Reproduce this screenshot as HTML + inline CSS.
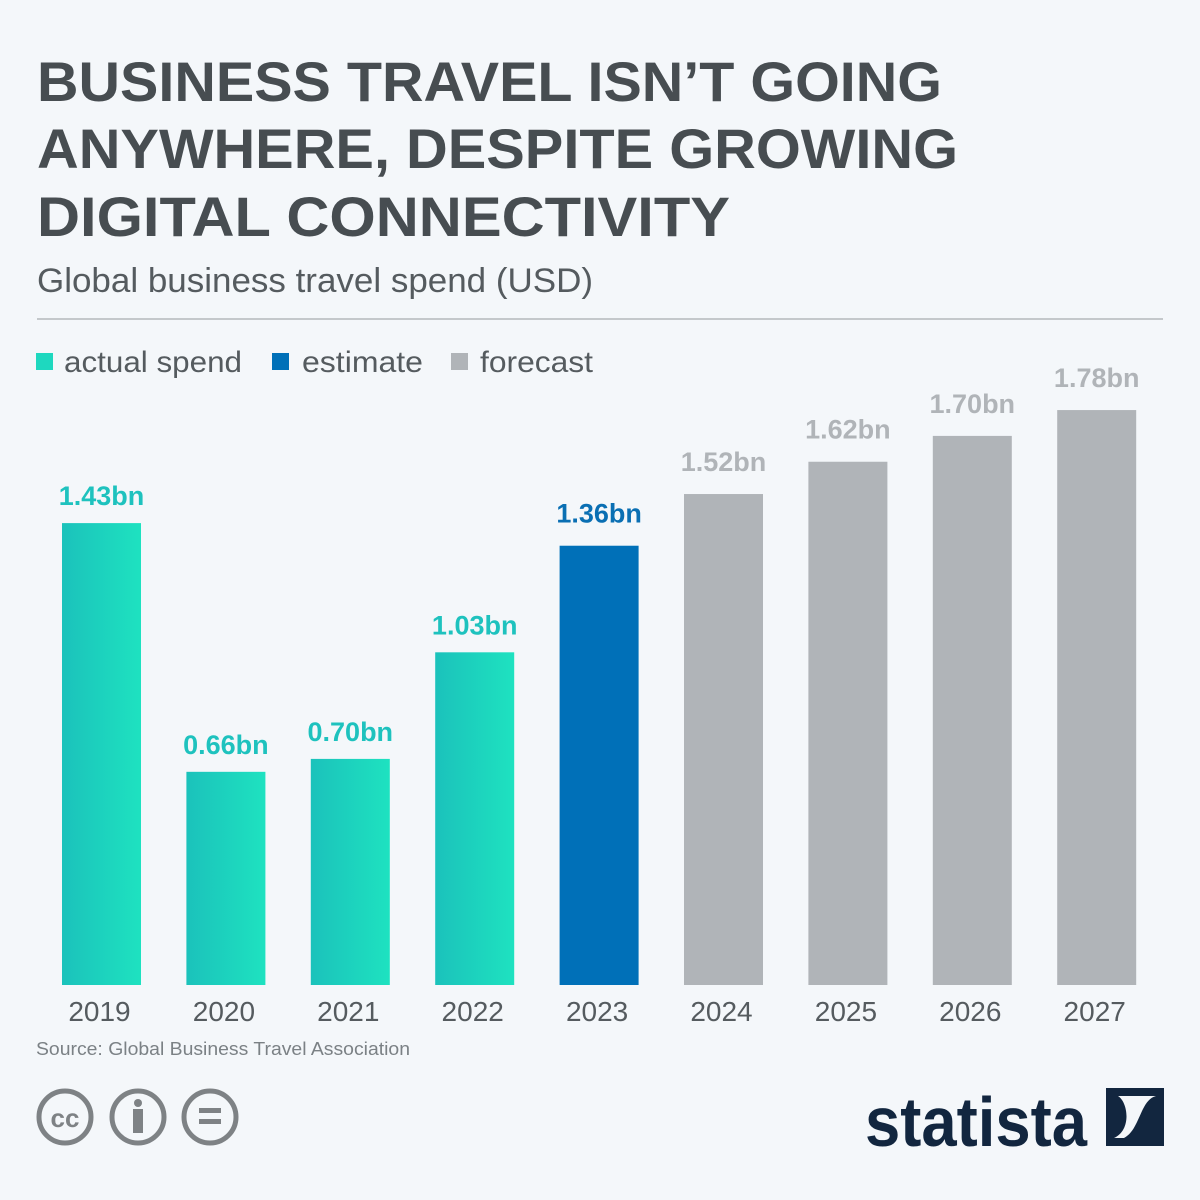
<!DOCTYPE html>
<html><head><meta charset="utf-8"><style>
html,body{margin:0;padding:0;background:#f4f7fa;}
svg{display:block;font-family:"Liberation Sans",sans-serif;}
</style></head><body>
<svg id="chart" width="1200" height="1200" viewBox="0 0 1200 1200">
<defs><linearGradient id="tg" x1="0" x2="1" y1="0" y2="0"><stop offset="0" stop-color="#1bc2bb"/><stop offset="1" stop-color="#1ee2c0"/></linearGradient></defs>
<rect width="1200" height="1200" fill="#f4f7fa"/>
<g fill="#474d51" font-weight="bold" font-size="56">
<text x="37" y="101" textLength="905" lengthAdjust="spacingAndGlyphs">BUSINESS TRAVEL ISN’T GOING</text>
<text x="37" y="168" textLength="921" lengthAdjust="spacingAndGlyphs">ANYWHERE, DESPITE GROWING</text>
<text x="37" y="236" textLength="693" lengthAdjust="spacingAndGlyphs">DIGITAL CONNECTIVITY</text>
</g>
<text x="37" y="292" font-size="34" fill="#555b5f" textLength="556" lengthAdjust="spacingAndGlyphs">Global business travel spend (USD)</text>
<line x1="37" y1="319" x2="1163" y2="319" stroke="#c4c8cb" stroke-width="2"/>
<g font-size="30" fill="#555b5f">
<g><rect x="36" y="353" width="17" height="17" fill="#1ed8bf"/><text x="64" y="372" textLength="178" lengthAdjust="spacingAndGlyphs">actual spend</text></g>
<g><rect x="272" y="353" width="17" height="17" fill="#0070b8"/><text x="302" y="372" textLength="121" lengthAdjust="spacingAndGlyphs">estimate</text></g>
<g><rect x="451" y="353" width="17" height="17" fill="#b0b4b8"/><text x="480" y="372" textLength="113" lengthAdjust="spacingAndGlyphs">forecast</text></g>
</g>
<g id="bars"></g>
<text x="36" y="1055" font-size="18" fill="#7b8185" textLength="374" lengthAdjust="spacingAndGlyphs">Source: Global Business Travel Association</text>
<g fill="none" stroke="#7e8285" stroke-width="5">
<circle cx="65" cy="1117" r="26"/><circle cx="138" cy="1117" r="26"/><circle cx="210" cy="1117" r="26"/>
</g>
<text x="65" y="1127" font-size="26" font-weight="bold" fill="#7e8285" text-anchor="middle">cc</text>
<circle cx="138" cy="1103" r="4" fill="#7e8285"/><rect x="133" y="1109" width="10" height="24" fill="#7e8285"/>
<rect x="199" y="1108" width="22" height="5" fill="#7e8285"/><rect x="199" y="1119" width="22" height="5" fill="#7e8285"/>
<text x="865" y="1146" font-size="70" font-weight="bold" fill="#12263f" textLength="222" lengthAdjust="spacingAndGlyphs">statista</text>
<g><rect x="1106" y="1088" width="58" height="58" fill="#12263f"/><path d="M1118 1096 H1156 C1140 1100 1140 1130 1124 1138 H1114 C1132 1130 1128 1102 1118 1096Z" fill="#f4f7fa"/></g>
</svg>
<script>
const categories=["2019","2020","2021","2022","2023","2024","2025","2026","2027"];
const values=[1.43,0.66,0.70,1.03,1.36,1.52,1.62,1.70,1.78];
const valueLabels=["1.43bn","0.66bn","0.70bn","1.03bn","1.36bn","1.52bn","1.62bn","1.70bn","1.78bn"];
const seriesType=["actual","actual","actual","actual","estimate","forecast","forecast","forecast","forecast"];
const NS="http://www.w3.org/2000/svg";
const base=985, scale=323, x0=101.5, step=124.4, bw=79;
const yPos=v=>base-v*scale;
const xPos=i=>x0+i*step;
const fills={actual:"url(#tg)",estimate:"#0070b8",forecast:"#b0b4b8"};
const lcol={actual:"#1ec2be",estimate:"#0a6fb3",forecast:"#b0b4b8"};
const g=document.getElementById("bars");
categories.forEach((c,i)=>{
  const t=seriesType[i];
  const r=document.createElementNS(NS,"rect");
  r.setAttribute("x",xPos(i)-bw/2);r.setAttribute("y",yPos(values[i]));
  r.setAttribute("width",bw);r.setAttribute("height",base-yPos(values[i]));
  r.setAttribute("fill",fills[t]);
  
  
  g.appendChild(r);
  const l=document.createElementNS(NS,"text");
  l.setAttribute("x",xPos(i));l.setAttribute("y",yPos(values[i])-(t==="actual"?18:23));
  l.setAttribute("text-anchor","middle");l.setAttribute("font-size","27");l.setAttribute("font-weight","bold");
  l.setAttribute("fill",lcol[t]);l.textContent=valueLabels[i];
  
  
  g.appendChild(l);
  const a=document.createElementNS(NS,"text");
  a.setAttribute("x",xPos(i)-2);a.setAttribute("y",1021);
  a.setAttribute("text-anchor","middle");a.setAttribute("font-size","28");a.setAttribute("fill","#555b5f");
  a.textContent=c;
  
  
  g.appendChild(a);
});
</script>
</body></html>
